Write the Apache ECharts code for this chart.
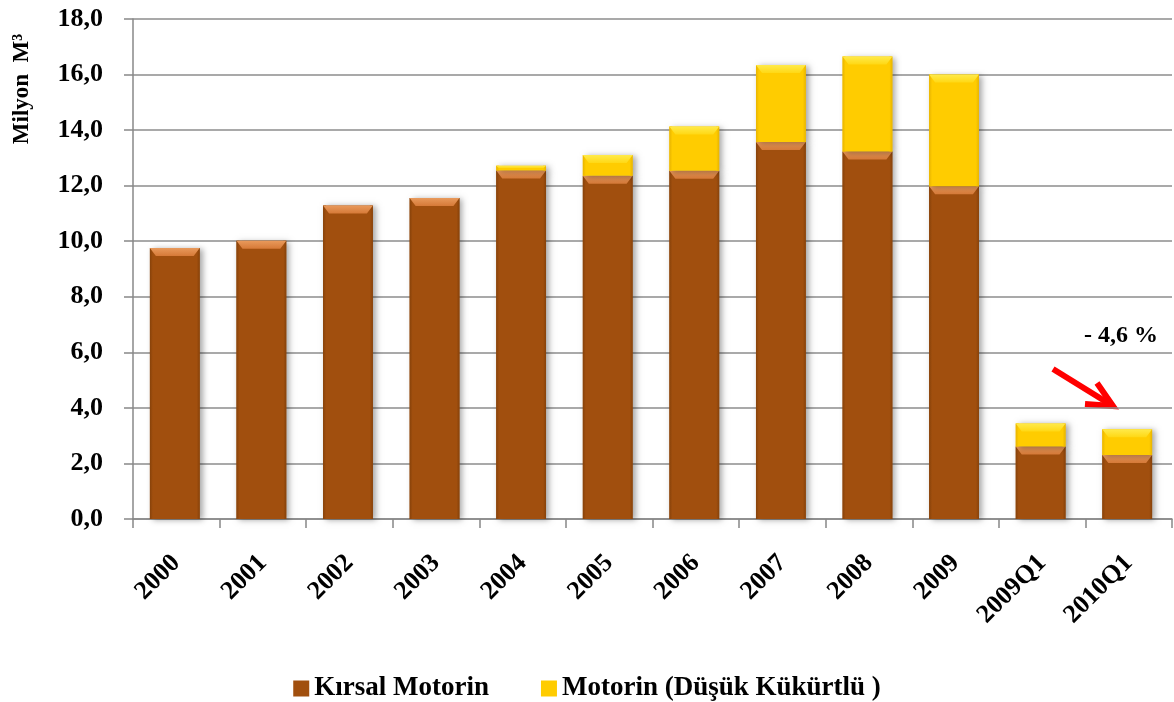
<!DOCTYPE html>
<html>
<head>
<meta charset="utf-8">
<script src="https://cdn.jsdelivr.net/npm/echarts@6/dist/echarts.min.js"></script>
<style>
  html, body { margin: 0; padding: 0; background: #fff; }
  #chart { width: 1174px; height: 702px; }
</style>
</head>
<body>
<div id="chart"></div>
<script>
  // kategoriler ve seriler (milyon m3)
  var years = ['2000', '2001', '2002', '2003', '2004', '2005', '2006', '2007', '2008', '2009', '2009Q1', '2010Q1'];
  var kirsal = [9.76, 10.02, 11.29, 11.56, 12.55, 12.36, 12.54, 13.57, 13.23, 11.98, 2.61, 2.30];
  var dusukKukurtlu = [0, 0, 0, 0, 0.17, 0.74, 1.59, 2.77, 3.42, 4.02, 0.83, 0.93];
  var seriesNames = ['Kırsal Motorin', 'Motorin (Düşük Kükürtlü )'];
  var yTicks = [0, 2, 4, 6, 8, 10, 12, 14, 16, 18];

  var font = 'Liberation Serif';

  // renkler: ana, üst pah, yanlar
  var brown = { main: '#a14f0e', topA: '#e99a5c', topB: '#d67a38', side: '#87420a' };
  var yellow = { main: '#ffcc00', topA: '#ffea4a', topB: '#ffd814', side: '#e8b400' };

  // yığılmış değerler: [index, taban, tepe]
  var kirsalData = kirsal.map(function (v, i) { return [i, 0, v]; });
  var dusukData = dusukKukurtlu.map(function (v, i) { return [i, kirsal[i], kirsal[i] + v]; });

  function bevelBar(pal) {
    return function (params, api) {
      var lo = api.value(1), hi = api.value(2);
      if (hi - lo <= 0) return;
      var w = api.size([1, 0])[0] * 0.575;
      var pBase = api.coord([api.value(0), lo]);
      var pTop = api.coord([api.value(0), hi]);
      var x0 = pBase[0] - w / 2 - 1.5, x1 = x0 + w;
      var y0 = pTop[1], y1 = pBase[1];
      var h = y1 - y0;
      var b = Math.min(8, h / 2);
      var s = Math.min(6, h / 2);
      var e = Math.min(3, w / 4);
      return {
        type: 'group',
        children: [
          { type: 'rect', shape: { x: x0, y: y0, width: w, height: h },
            style: { fill: pal.main, shadowBlur: 6, shadowOffsetX: 3, shadowOffsetY: 1,
                     shadowColor: 'rgba(0,0,0,0.35)' } },
          { type: 'rect', shape: { x: x0, y: y0, width: e, height: h },
            style: { fill: new echarts.graphic.LinearGradient(0, 0, 1, 0,
              [{ offset: 0, color: pal.side }, { offset: 1, color: pal.main }]) } },
          { type: 'rect', shape: { x: x1 - e, y: y0, width: e, height: h },
            style: { fill: new echarts.graphic.LinearGradient(0, 0, 1, 0,
              [{ offset: 0, color: pal.main }, { offset: 1, color: pal.side }]) } },
          { type: 'polygon', shape: { points: [[x0, y0], [x1, y0], [x1 - s, y0 + b], [x0 + s, y0 + b]] },
            style: { fill: new echarts.graphic.LinearGradient(0, 0, 0, 1,
              [{ offset: 0, color: pal.topA }, { offset: 1, color: pal.topB }]) } }
        ]
      };
    };
  }

  var chart = echarts.init(document.getElementById('chart'));
  var option = {
    animation: false,
    grid: { left: 133, right: 2, top: 19, bottom: 183 },
    legend: {
      top: 670,
      left: 'center',
      itemWidth: 16,
      itemHeight: 16,
      itemGap: 52,
      icon: 'rect',
      textStyle: { fontFamily: font, fontWeight: 'bold', fontSize: 27, color: '#000' },
      data: seriesNames
    },
    xAxis: {
      type: 'category',
      data: years,
      axisLine: { lineStyle: { color: '#888', width: 1.5 } },
      axisTick: { show: true, length: 9, lineStyle: { color: '#888', width: 1.5 } },
      axisLabel: {
        rotate: 45,
        margin: 40,
        fontFamily: font,
        fontWeight: 'bold',
        fontSize: 26,
        color: '#000'
      }
    },
    yAxis: {
      type: 'value',
      min: yTicks[0],
      max: yTicks[yTicks.length - 1],
      interval: 2,
      axisLine: { show: true, lineStyle: { color: '#888', width: 1.5 } },
      axisTick: { show: true, length: 9, lineStyle: { color: '#888', width: 1.5 } },
      splitLine: { lineStyle: { color: '#8c8c8c', width: 1.5 } },
      axisLabel: {
        margin: 30,
        fontFamily: font,
        fontWeight: 'bold',
        fontSize: 26,
        color: '#000',
        formatter: function (v) { return v.toFixed(1).replace('.', ','); }
      }
    },
    series: [
      {
        name: seriesNames[0],
        type: 'custom',
        renderItem: bevelBar(brown),
        itemStyle: { color: brown.main },
        encode: { x: 0, y: [1, 2] },
        data: kirsalData
      },
      {
        name: seriesNames[1],
        type: 'custom',
        renderItem: bevelBar(yellow),
        itemStyle: { color: yellow.main },
        encode: { x: 0, y: [1, 2] },
        data: dusukData
      }
    ],
    graphic: [
      {
        type: 'text',
        x: 22,
        y: 89,
        rotation: Math.PI / 2,
        style: {
          text: 'Milyon  M³',
          font: 'bold 23px "Liberation Serif"',
          fill: '#000',
          textAlign: 'center',
          textVerticalAlign: 'middle'
        }
      },
      {
        type: 'text',
        x: 1158,
        y: 336,
        style: {
          text: '- 4,6 %',
          font: 'bold 24px "Liberation Serif"',
          fill: '#000',
          textAlign: 'right',
          textVerticalAlign: 'middle'
        }
      },
      {
        type: 'line',
        shape: { x1: 1053, y1: 369, x2: 1108, y2: 403 },
        style: { stroke: '#ff0000', lineWidth: 6 }
      },
      {
        type: 'polyline',
        shape: { points: [[1097, 383], [1113, 406], [1085, 404]] },
        style: { stroke: '#ff0000', lineWidth: 6, lineJoin: 'miter' }
      }
    ]
  };
  chart.setOption(option);
</script>
</body>
</html>
